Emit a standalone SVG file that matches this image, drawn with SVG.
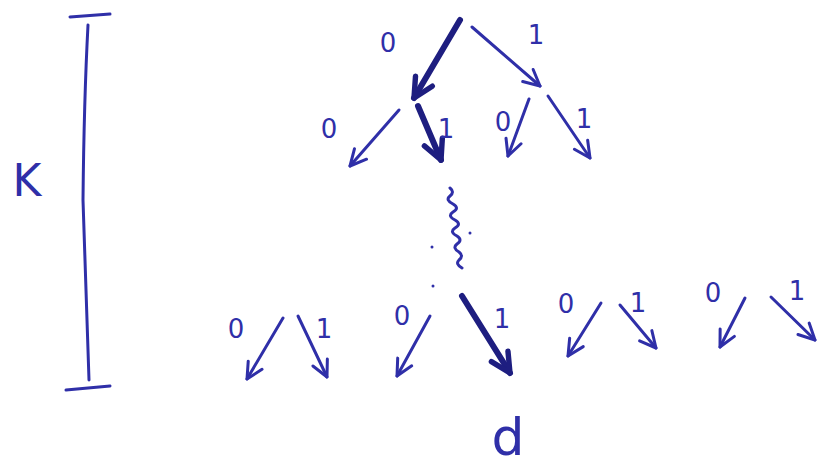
<svg xmlns="http://www.w3.org/2000/svg" width="820" height="469" viewBox="0 0 820 469">
<defs>
<marker id="ah" viewBox="0 0 20 20" refX="18" refY="10" markerWidth="20" markerHeight="20" markerUnits="userSpaceOnUse" orient="auto">
<path d="M2,2 L18,10 L2,18" fill="none" stroke="#2f2fa8" stroke-width="3" stroke-linecap="round" stroke-linejoin="round"/>
</marker>
<marker id="ahb" viewBox="0 0 24 24" refX="21" refY="12" markerWidth="26" markerHeight="26" markerUnits="userSpaceOnUse" orient="auto">
<path d="M3,3 L21,12 L3,21" fill="none" stroke="#1e1e80" stroke-width="5" stroke-linecap="round" stroke-linejoin="round"/>
</marker>
</defs>
<style>
.t{stroke:#2f2fa8;stroke-width:3;fill:none;stroke-linecap:round}
.b{stroke:#1e1e80;stroke-width:6;fill:none;stroke-linecap:round}
.l{font-family:"DejaVu Sans",sans-serif;font-size:26px;font-weight:normal;fill:#2f2fa8;text-anchor:middle}
</style>
<rect width="820" height="469" fill="#ffffff"/>
<g id="scale">
<path class="t" d="M70,17 L110,14"/>
<path class="t" d="M88,25 Q84,100 83,200 Q86,300 89,380"/>
<path class="t" d="M66,390 L110,386"/>
<text class="l" x="27" y="196" style="font-size:44px">K</text>
</g>
<g id="connectors">
<path class="b" d="M460,20 L414,98" marker-end="url(#ahb)"/>
<path class="t" d="M472,27 L540,86" marker-end="url(#ah)"/>
<path class="t" d="M399,110 L350,166" marker-end="url(#ah)"/>
<path class="b" d="M418,106 L441,160" marker-end="url(#ahb)"/>
<path class="t" d="M529,99 L508,156" marker-end="url(#ah)"/>
<path class="t" d="M548,96 L590,158" marker-end="url(#ah)"/>
<path class="t" d="M450,188 q5,4 0,8 q-5,4 3,8 q7,4 0,8 q-6,4 2,8 q7,4 0,8 q-6,4 2,8 q6,4 0,8 q-5,4 2,8 q5,4 0,8 q-4,4 3,8"/>
<path class="t" d="M283,318 L247,379" marker-end="url(#ah)"/>
<path class="t" d="M298,316 L327,377" marker-end="url(#ah)"/>
<path class="t" d="M430,316 L397,376" marker-end="url(#ah)"/>
<path class="b" d="M462,296 L510,373" marker-end="url(#ahb)"/>
<path class="t" d="M601,303 L568,356" marker-end="url(#ah)"/>
<path class="t" d="M620,305 L656,348" marker-end="url(#ah)"/>
<path class="t" d="M745,298 L720,347" marker-end="url(#ah)"/>
<path class="t" d="M771,297 L815,340" marker-end="url(#ah)"/>
<circle cx="432" cy="247" r="1.5" fill="#2f2fa8"/>
<circle cx="470" cy="233" r="1.5" fill="#2f2fa8"/>
<circle cx="433" cy="286" r="1.5" fill="#2f2fa8"/>
</g>
<g id="labels">
<text class="l" x="388" y="52">0</text>
<text class="l" x="536" y="44">1</text>
<text class="l" x="329" y="138">0</text>
<text class="l" x="446" y="138">1</text>
<text class="l" x="503" y="131">0</text>
<text class="l" x="584" y="128">1</text>
<text class="l" x="236" y="338">0</text>
<text class="l" x="324" y="338">1</text>
<text class="l" x="402" y="325">0</text>
<text class="l" x="502" y="328">1</text>
<text class="l" x="566" y="313">0</text>
<text class="l" x="638" y="312">1</text>
<text class="l" x="713" y="302">0</text>
<text class="l" x="797" y="300">1</text>
<text class="l" x="508" y="455" style="font-size:52px">d</text>
</g>
</svg>
